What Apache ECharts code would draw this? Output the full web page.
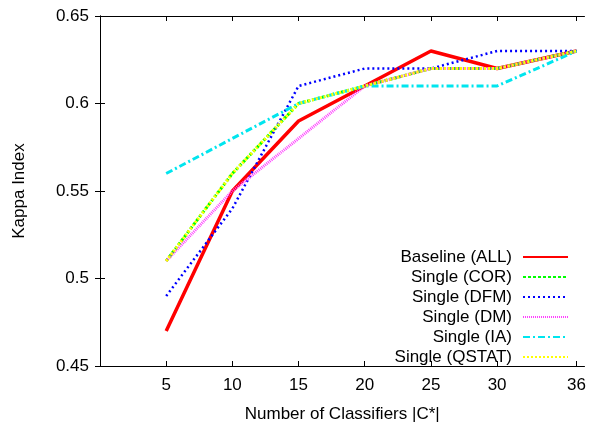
<!DOCTYPE html>
<html><head><meta charset="utf-8">
<script src="https://cdn.jsdelivr.net/npm/echarts@6/dist/echarts.min.js"></script>
<style>html,body{margin:0;padding:0;background:#fff}#c{width:589px;height:428px}</style>
</head><body><div id="c"></div>
<script>
var xValues = [5, 10, 15, 20, 25, 30, 36];
var xTicks = [5, 10, 15, 20, 25, 30, 36];
var yTicks = [0.45, 0.5, 0.55, 0.6, 0.65];
var seriesNames = ['Baseline (ALL)', 'Single (COR)', 'Single (DFM)', 'Single (DM)', 'Single (IA)', 'Single (QSTAT)'];
var baselineAll = [0.47, 0.55, 0.59, 0.61, 0.63, 0.62, 0.63];
var singleCOR   = [0.51, 0.56, 0.60, 0.61, 0.62, 0.62, 0.63];
var singleDFM   = [0.49, 0.54, 0.61, 0.62, 0.62, 0.63, 0.63];
var singleDM    = [0.51, 0.55, 0.58, 0.61, 0.62, 0.62, 0.63];
var singleIA    = [0.56, 0.58, 0.60, 0.61, 0.61, 0.61, 0.63];
var singleQSTAT = [0.51, 0.56, 0.60, 0.61, 0.62, 0.62, 0.63];

var allValues = [baselineAll, singleCOR, singleDFM, singleDM, singleIA, singleQSTAT];
var styles = [
  {color: '#ff0000', width: 3.5, type: 'solid'},
  {color: '#00ff00', width: 3, type: [3, 2]},
  {color: '#0000ff', width: 2.5, type: [2, 3]},
  {color: '#ff40ff', width: 3, type: [1, 1]},
  {color: '#00e5ee', width: 3, type: [7, 3, 2, 3]},
  {color: '#ffff00', width: 3, type: [2, 2]}
];
var FONT = 'Liberation Sans, Arial, sans-serif';
var series = allValues.map(function (vals, i) {
  return {
    name: seriesNames[i], type: 'line', symbol: 'none', showSymbol: false,
    data: xValues.map(function (x, j) { return [x, vals[j]]; }),
    lineStyle: styles[i], itemStyle: {color: styles[i].color},
    emphasis: {disabled: true}, animation: false, z: 2 + i
  };
});
var axisLine = {show: true, lineStyle: {color: '#000', width: 1}};
var tick = {show: true, inside: true, length: 5, lineStyle: {color: '#000', width: 1}};
var chart = echarts.init(document.getElementById('c'), null, {renderer: 'canvas'});
chart.setOption({
  animation: false,
  backgroundColor: '#fff',
  grid: {left: 100, right: 1, top: 16, bottom: 57, containLabel: false},
  xAxis: [{
    type: 'value', min: 0, max: 36.6, position: 'bottom',
    name: 'Number of Classifiers |C*|', nameLocation: 'middle', nameGap: 40,
    nameTextStyle: {fontFamily: FONT, fontSize: 17, color: '#000'},
    axisLine: axisLine, splitLine: {show: false},
    axisTick: Object.assign({customValues: xTicks}, tick),
    axisLabel: {customValues: xTicks, fontFamily: FONT, fontSize: 17, color: '#000', margin: 11}
  }, {
    type: 'value', min: 0, max: 36.6, position: 'top',
    axisLine: axisLine, splitLine: {show: false},
    axisTick: Object.assign({customValues: xTicks}, tick),
    axisLabel: {show: false}
  }],
  yAxis: [{
    type: 'value', min: 0.45, max: 0.65, position: 'left',
    name: 'Kappa Index', nameLocation: 'middle', nameGap: 72,
    nameTextStyle: {fontFamily: FONT, fontSize: 17, color: '#000'},
    axisLine: axisLine, splitLine: {show: false},
    axisTick: Object.assign({customValues: yTicks}, tick),
    axisLabel: {customValues: yTicks, fontFamily: FONT, fontSize: 17, color: '#000', margin: 11}
  }, {
    type: 'value', min: 0.45, max: 0.65, position: 'right',
    axisLine: axisLine, splitLine: {show: false},
    axisTick: Object.assign({customValues: yTicks}, tick),
    axisLabel: {show: false}
  }],
  legend: {
    orient: 'vertical', right: 15, top: 242, align: 'right',
    itemWidth: 45, itemHeight: 6, itemGap: 0,
    itemStyle: {opacity: 0},
    textStyle: {fontFamily: FONT, fontSize: 17, color: '#000', lineHeight: 20, padding: [0, 6, 0, 0]},
    data: seriesNames, selectedMode: false
  },
  series: series
});
</script></body></html>
